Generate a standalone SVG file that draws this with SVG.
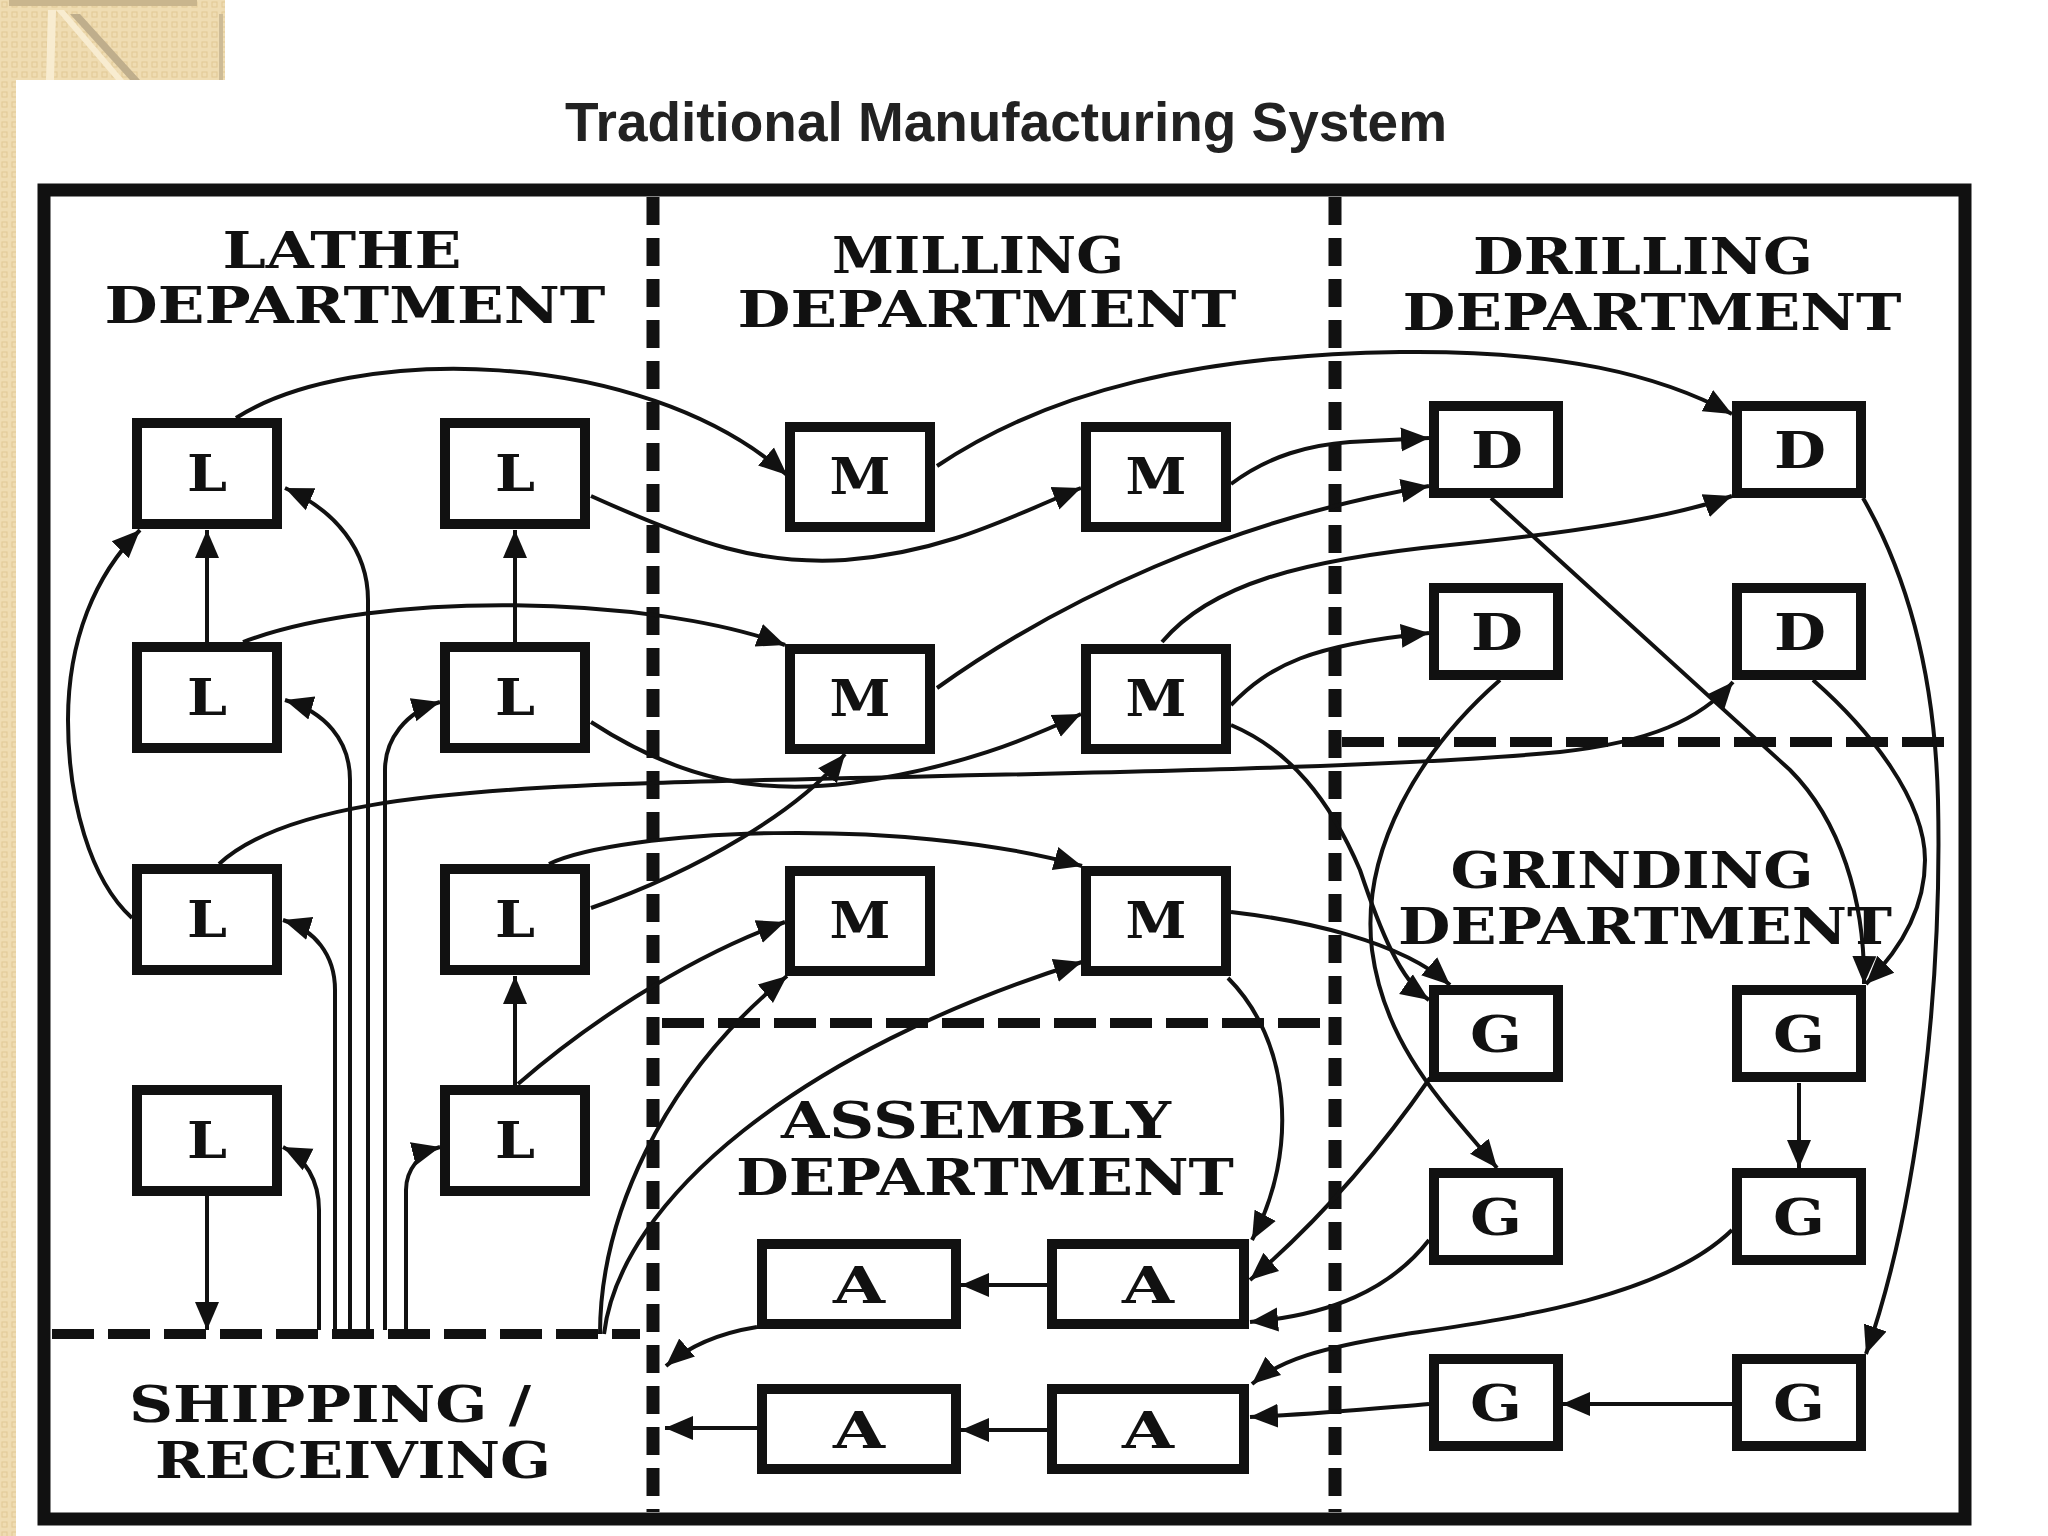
<svg xmlns="http://www.w3.org/2000/svg" width="2048" height="1536" viewBox="0 0 2048 1536">
<defs>
<marker id="ah" markerUnits="userSpaceOnUse" markerWidth="30" markerHeight="26" refX="28" refY="13" orient="auto" viewBox="0 0 30 26"><path d="M0,1 L28,13 L0,25 z" fill="#111"/></marker>
<pattern id="beige" width="10" height="10" patternUnits="userSpaceOnUse"><rect width="10" height="10" fill="#efdcb2"/><rect x="2" y="2" width="5" height="5" fill="none" stroke="#e2c995" stroke-width="1"/></pattern>
</defs>
<style>
.box{fill:#fff;stroke:#111;stroke-width:10}
.lbl{font-family:"DejaVu Serif","Liberation Serif",serif;font-weight:bold;font-size:50px;fill:#111;text-anchor:middle}
.dept{font-family:"DejaVu Serif","Liberation Serif",serif;font-weight:bold;font-size:50px;fill:#111;text-anchor:middle}
.con{fill:none;stroke:#111;stroke-width:4;marker-end:url(#ah)}
.vd{stroke:#111;stroke-width:13;stroke-dasharray:28 13;fill:none}
.hd{stroke:#111;stroke-width:10;stroke-dasharray:42 14;fill:none}
</style>
<rect width="2048" height="1536" fill="#fff"/>
<g id="decor">
<rect x="0" y="0" width="225" height="80" fill="url(#beige)"/>
<rect x="0" y="0" width="16" height="1536" fill="url(#beige)"/>
<rect x="9" y="0" width="188" height="6" fill="#c9b58d"/>
<polygon points="48,10 56,10 54,80 46,80" fill="#f8ecd0"/>
<polygon points="56,10 64,10 124,80 116,80" fill="#f8ecd0"/>
<polygon points="70,14 80,14 140,80 130,80" fill="#bfae8c"/>
<rect x="219" y="14" width="4" height="66" fill="#cdbb96"/>
</g>
<text id="title" x="1006" y="141" font-family="Liberation Sans, Arial, sans-serif" font-weight="bold" font-size="55" fill="#222" text-anchor="middle" textLength="882" lengthAdjust="spacingAndGlyphs">Traditional Manufacturing System</text>
<g id="frame">
<rect x="44" y="190" width="1921" height="1329" fill="none" stroke="#111" stroke-width="13"/>
<line class="vd" x1="653" y1="197" x2="653" y2="1512"/>
<line class="vd" x1="1335" y1="197" x2="1335" y2="1512"/>
<line class="hd" x1="52" y1="1334" x2="640" y2="1334"/>
<line class="hd" x1="662" y1="1023" x2="1330" y2="1023"/>
<line class="hd" x1="1342" y1="742" x2="1958" y2="742"/>
</g>
<g id="labels">
<text class="dept" x="342" y="268" textLength="239" lengthAdjust="spacingAndGlyphs">LATHE</text>
<text class="dept" x="355" y="323" textLength="501" lengthAdjust="spacingAndGlyphs">DEPARTMENT</text>
<text class="dept" x="978" y="273" textLength="292" lengthAdjust="spacingAndGlyphs">MILLING</text>
<text class="dept" x="987" y="327" textLength="499" lengthAdjust="spacingAndGlyphs">DEPARTMENT</text>
<text class="dept" x="1643" y="274" textLength="340" lengthAdjust="spacingAndGlyphs">DRILLING</text>
<text class="dept" x="1652" y="330" textLength="499" lengthAdjust="spacingAndGlyphs">DEPARTMENT</text>
<text class="dept" x="1632" y="888" textLength="363" lengthAdjust="spacingAndGlyphs">GRINDING</text>
<text class="dept" x="1645" y="944" textLength="494" lengthAdjust="spacingAndGlyphs">DEPARTMENT</text>
<text class="dept" x="976" y="1138" textLength="390" lengthAdjust="spacingAndGlyphs">ASSEMBLY</text>
<text class="dept" x="985" y="1195" textLength="498" lengthAdjust="spacingAndGlyphs">DEPARTMENT</text>
<text class="dept" x="330" y="1422" textLength="402" lengthAdjust="spacingAndGlyphs">SHIPPING /</text>
<text class="dept" x="353" y="1478" textLength="396" lengthAdjust="spacingAndGlyphs">RECEIVING</text>
</g>
<g id="connectors">
<path class="con" d="M207 642 L207 530"/>
<path class="con" d="M515 642 L515 530"/>
<path class="con" d="M515 1085 L515 976"/>
<path class="con" d="M207 1195 L207 1330"/>
<path class="con" d="M132 918 C90 880 68 800 68 720 C68 640 95 575 140 530"/>
<path class="con" d="M319 1330 L319 1210 C319 1180 305 1158 283 1147"/>
<path class="con" d="M335 1330 L335 990 C335 955 315 930 283 920"/>
<path class="con" d="M350 1330 L350 780 C350 740 325 712 285 700"/>
<path class="con" d="M368 1330 L368 600 C368 550 335 510 285 488"/>
<path class="con" d="M385 1330 L385 770 C385 740 405 712 440 702"/>
<path class="con" d="M406 1330 L406 1190 C406 1170 420 1152 440 1147"/>
<path class="con" d="M236 418 C350 345 640 345 787 475"/>
<path class="con" d="M591 496 C700 545 760 565 845 560 C950 552 1020 512 1081 488"/>
<path class="con" d="M243 642 C380 590 650 595 785 645"/>
<path class="con" d="M591 722 C680 780 760 795 850 783 C960 768 1030 738 1081 714"/>
<path class="con" d="M219 864 C280 808 420 790 653 783 C900 775 1350 772 1560 752 C1650 742 1700 720 1733 682"/>
<path class="con" d="M549 864 C620 830 900 815 1082 866"/>
<path class="con" d="M591 908 C700 870 800 810 845 754"/>
<path class="con" d="M518 1084 C580 1030 680 960 785 922"/>
<path class="con" d="M600 1334 C600 1220 660 1080 787 976"/>
<path class="con" d="M604 1334 C620 1200 800 1050 1082 962"/>
<path class="con" d="M937 466 C1050 390 1200 355 1400 352 C1560 350 1660 375 1732 414"/>
<path class="con" d="M1231 484 C1270 455 1310 445 1350 442 L1429 438"/>
<path class="con" d="M937 688 C1060 600 1230 520 1429 486"/>
<path class="con" d="M1162 642 C1210 585 1300 560 1450 545 C1580 532 1680 515 1732 496"/>
<path class="con" d="M1231 705 C1270 665 1310 645 1429 633"/>
<path class="con" d="M1231 725 C1290 750 1330 800 1360 870 C1380 930 1400 980 1429 1000"/>
<path class="con" d="M1231 912 C1300 920 1400 940 1450 985"/>
<path class="con" d="M1228 978 C1290 1040 1300 1150 1252 1240"/>
<path class="con" d="M1491 498 L1790 770 C1840 820 1865 900 1864 984"/>
<path class="con" d="M1813 680 C1870 730 1925 800 1925 860 C1925 910 1900 950 1866 984"/>
<path class="con" d="M1863 498 C1910 580 1935 680 1938 800 C1942 980 1920 1200 1866 1354"/>
<path class="con" d="M1500 680 C1420 750 1360 850 1372 950 C1385 1050 1450 1110 1497 1168"/>
<path class="con" d="M1799 1083 L1799 1168"/>
<path class="con" d="M1732 1404 L1562 1404"/>
<path class="con" d="M1430 1078 C1380 1150 1320 1220 1250 1280"/>
<path class="con" d="M1429 1240 C1390 1290 1330 1315 1250 1322"/>
<path class="con" d="M1732 1230 C1660 1300 1500 1320 1400 1335 C1320 1348 1280 1360 1252 1384"/>
<path class="con" d="M1429 1404 C1380 1408 1320 1414 1250 1417"/>
<path class="con" d="M1047 1285 L961 1285"/>
<path class="con" d="M1047 1430 L961 1430"/>
<path class="con" d="M757 1428 L665 1428"/>
<path class="con" d="M757 1327 C720 1333 690 1345 666 1366"/>
</g>
<g id="L1"><rect class="box" x="137" y="423" width="140" height="101"/><text class="lbl" x="207" y="491" textLength="40" lengthAdjust="spacingAndGlyphs">L</text></g>
<g id="L2"><rect class="box" x="445" y="423" width="140" height="101"/><text class="lbl" x="515" y="491" textLength="40" lengthAdjust="spacingAndGlyphs">L</text></g>
<g id="L3"><rect class="box" x="137" y="647" width="140" height="101"/><text class="lbl" x="207" y="715" textLength="40" lengthAdjust="spacingAndGlyphs">L</text></g>
<g id="L4"><rect class="box" x="445" y="647" width="140" height="101"/><text class="lbl" x="515" y="715" textLength="40" lengthAdjust="spacingAndGlyphs">L</text></g>
<g id="L5"><rect class="box" x="137" y="869" width="140" height="101"/><text class="lbl" x="207" y="937" textLength="40" lengthAdjust="spacingAndGlyphs">L</text></g>
<g id="L6"><rect class="box" x="445" y="869" width="140" height="101"/><text class="lbl" x="515" y="937" textLength="40" lengthAdjust="spacingAndGlyphs">L</text></g>
<g id="L7"><rect class="box" x="137" y="1090" width="140" height="101"/><text class="lbl" x="207" y="1158" textLength="40" lengthAdjust="spacingAndGlyphs">L</text></g>
<g id="L8"><rect class="box" x="445" y="1090" width="140" height="101"/><text class="lbl" x="515" y="1158" textLength="40" lengthAdjust="spacingAndGlyphs">L</text></g>
<g id="M1"><rect class="box" x="790" y="427" width="140" height="100"/><text class="lbl" x="860" y="494" textLength="61" lengthAdjust="spacingAndGlyphs">M</text></g>
<g id="M2"><rect class="box" x="1086" y="427" width="140" height="100"/><text class="lbl" x="1156" y="494" textLength="61" lengthAdjust="spacingAndGlyphs">M</text></g>
<g id="M3"><rect class="box" x="790" y="649" width="140" height="100"/><text class="lbl" x="860" y="716" textLength="61" lengthAdjust="spacingAndGlyphs">M</text></g>
<g id="M4"><rect class="box" x="1086" y="649" width="140" height="100"/><text class="lbl" x="1156" y="716" textLength="61" lengthAdjust="spacingAndGlyphs">M</text></g>
<g id="M5"><rect class="box" x="790" y="871" width="140" height="100"/><text class="lbl" x="860" y="938" textLength="61" lengthAdjust="spacingAndGlyphs">M</text></g>
<g id="M6"><rect class="box" x="1086" y="871" width="140" height="100"/><text class="lbl" x="1156" y="938" textLength="61" lengthAdjust="spacingAndGlyphs">M</text></g>
<g id="D1"><rect class="box" x="1434" y="406" width="124" height="87"/><text class="lbl" x="1497" y="468" textLength="52" lengthAdjust="spacingAndGlyphs">D</text></g>
<g id="D2"><rect class="box" x="1737" y="406" width="124" height="87"/><text class="lbl" x="1800" y="468" textLength="52" lengthAdjust="spacingAndGlyphs">D</text></g>
<g id="D3"><rect class="box" x="1434" y="588" width="124" height="87"/><text class="lbl" x="1497" y="650" textLength="52" lengthAdjust="spacingAndGlyphs">D</text></g>
<g id="D4"><rect class="box" x="1737" y="588" width="124" height="87"/><text class="lbl" x="1800" y="650" textLength="52" lengthAdjust="spacingAndGlyphs">D</text></g>
<g id="G1"><rect class="box" x="1434" y="990" width="124" height="87"/><text class="lbl" x="1496" y="1052" textLength="52" lengthAdjust="spacingAndGlyphs">G</text></g>
<g id="G2"><rect class="box" x="1737" y="990" width="124" height="87"/><text class="lbl" x="1799" y="1052" textLength="52" lengthAdjust="spacingAndGlyphs">G</text></g>
<g id="G3"><rect class="box" x="1434" y="1173" width="124" height="87"/><text class="lbl" x="1496" y="1235" textLength="52" lengthAdjust="spacingAndGlyphs">G</text></g>
<g id="G4"><rect class="box" x="1737" y="1173" width="124" height="87"/><text class="lbl" x="1799" y="1235" textLength="52" lengthAdjust="spacingAndGlyphs">G</text></g>
<g id="G5"><rect class="box" x="1434" y="1359" width="124" height="87"/><text class="lbl" x="1496" y="1421" textLength="52" lengthAdjust="spacingAndGlyphs">G</text></g>
<g id="G6"><rect class="box" x="1737" y="1359" width="124" height="87"/><text class="lbl" x="1799" y="1421" textLength="52" lengthAdjust="spacingAndGlyphs">G</text></g>
<g id="A1"><rect class="box" x="762" y="1244" width="194" height="80"/><text class="lbl" x="859" y="1303" textLength="52" lengthAdjust="spacingAndGlyphs">A</text></g>
<g id="A2"><rect class="box" x="1052" y="1244" width="192" height="80"/><text class="lbl" x="1148" y="1303" textLength="52" lengthAdjust="spacingAndGlyphs">A</text></g>
<g id="A3"><rect class="box" x="762" y="1389" width="194" height="80"/><text class="lbl" x="859" y="1448" textLength="52" lengthAdjust="spacingAndGlyphs">A</text></g>
<g id="A4"><rect class="box" x="1052" y="1389" width="192" height="80"/><text class="lbl" x="1148" y="1448" textLength="52" lengthAdjust="spacingAndGlyphs">A</text></g>
</svg>
